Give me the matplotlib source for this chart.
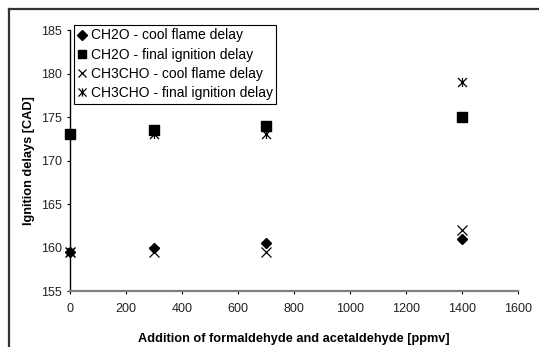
import matplotlib
matplotlib.use("Agg")
import matplotlib.pyplot as plt
from matplotlib.path import Path

plt.rcParams['font.family'] = ['Liberation Sans', 'DejaVu Sans']

x = [0, 300, 700, 1400]
ch2o_cool = [159.5, 160.0, 160.5, 161.0]
ch2o_final = [173.0, 173.5, 174.0, 175.0]
ch3cho_cool = [159.5, 159.5, 159.5, 162.0]
ch3cho_final = [159.5, 173.0, 173.0, 179.0]

labels = ["CH2O - cool flame delay", "CH2O - final ignition delay",
          "CH3CHO - cool flame delay", "CH3CHO - final ignition delay"]

star = Path([(-1, -1), (1, 1), (1, -1), (-1, 1), (0, -1), (0, 1)],
            [Path.MOVETO, Path.LINETO, Path.MOVETO, Path.LINETO, Path.MOVETO, Path.LINETO])

W, H = 539, 347
fig = plt.figure(figsize=(W / 100, H / 100), dpi=100)
ax = fig.add_axes([70 / W, 1 - 291 / H, (518 - 70) / W, (291 - 30) / H])

ax.plot(x, ch2o_cool, linestyle='none', marker='D', color='black', markersize=5.5, label=labels[0])
ax.plot(x, ch2o_final, linestyle='none', marker='s', color='black', markersize=6.5, label=labels[1])
ax.plot(x, ch3cho_cool, linestyle='none', marker='x', color='black', markersize=6.5,
        markeredgewidth=0.9, label=labels[2])
ax.plot(x, ch3cho_final, linestyle='none', marker=star, color='black', markersize=6.5,
        markeredgewidth=0.9, label=labels[3])

ax.set_xlim(0, 1600)
ax.set_ylim(155, 185)
ax.set_xticks(range(0, 1601, 200))
ax.set_yticks(range(155, 186, 5))
ax.spines['top'].set_visible(False)
ax.spines['right'].set_visible(False)
ax.spines['left'].set_color('black')
ax.spines['left'].set_linewidth(1.0)
ax.spines['bottom'].set_color('#808080')
ax.spines['bottom'].set_linewidth(1.6)
ax.tick_params(axis='both', direction='out', length=2.5, width=0.8, color='black',
               labelsize=9, labelcolor='#222222')
ax.tick_params(axis='y', pad=3.5)
ax.tick_params(axis='x', pad=6)
ax.set_xlabel("Addition of formaldehyde and acetaldehyde [ppmv]", fontsize=9.2,
              fontweight='bold', labelpad=13)
ax.set_ylabel("Ignition delays [CAD]", fontsize=9.2, fontweight='bold', labelpad=4)
for ln in ax.lines:
    ln.set_clip_on(False)

leg = ax.legend(loc='upper left', bbox_to_anchor=(4 / 448, 1 + 5 / 261), fontsize=10,
                frameon=True, fancybox=False, edgecolor='black', framealpha=1, borderpad=0.25,
                handlelength=0.7, handletextpad=0.25, labelspacing=0.38, borderaxespad=0,
                markerscale=0.9)
leg.get_frame().set_linewidth(0.8)

# outer figure border (top and left visible)
fig.add_artist(plt.Line2D([9 / W, 9 / W], [0, 1 - 9 / H], transform=fig.transFigure,
                          color='#333333', linewidth=1.6))
fig.add_artist(plt.Line2D([9 / W, 1], [1 - 9 / H, 1 - 9 / H], transform=fig.transFigure,
                          color='#333333', linewidth=1.6))

fig.savefig("out.png", dpi=100)
